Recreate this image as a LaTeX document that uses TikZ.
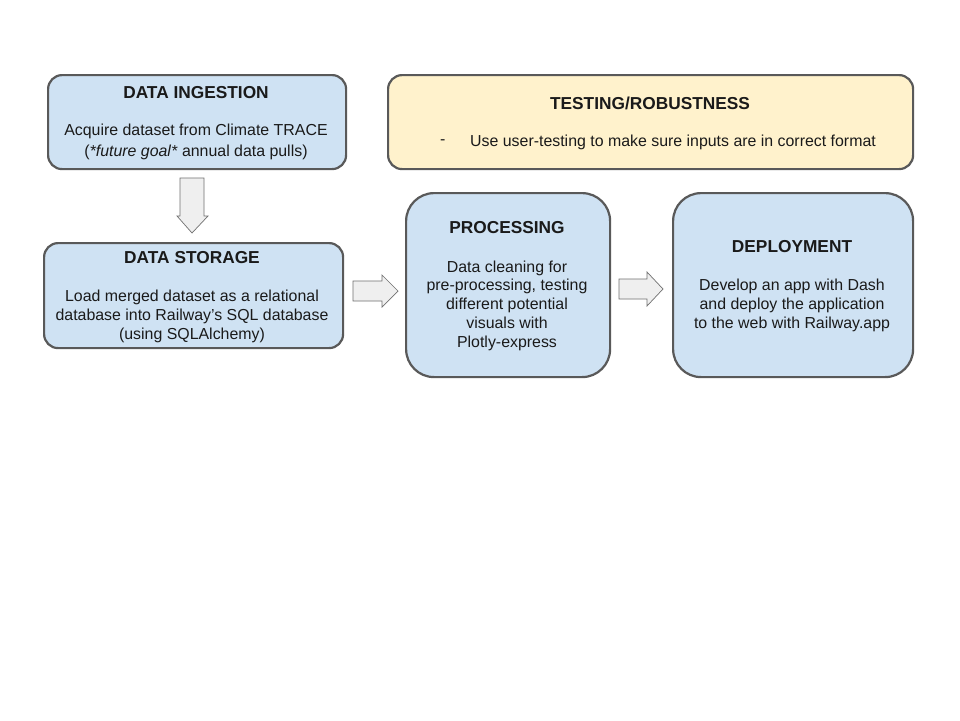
\documentclass[tikz,border=0pt]{standalone}
\usepackage{fontspec}
\setmainfont{Liberation Sans}
\definecolor{boxblue}{HTML}{CFE2F3}
\definecolor{boxyellow}{HTML}{FFF2CC}
\definecolor{edge}{HTML}{595959}
\definecolor{arrowfill}{HTML}{EFEFEF}
\definecolor{arrowedge}{HTML}{707070}
\definecolor{txt}{HTML}{1A1A1A}
\begin{document}
\begin{tikzpicture}[x=1pt,y=-1pt,
  box/.style={draw=edge, line width=2.2pt, fill=boxblue, rounded corners=14pt, inner sep=0pt, anchor=north west},
  bigbox/.style={box, rounded corners=28pt},
  ttl/.style={font=\fontsize{17.3}{20}\selectfont\bfseries, text=txt, inner sep=0pt},
  body/.style={font=\fontsize{15.9}{19}\selectfont, text=txt, align=center, inner sep=0pt},
  blockarrow/.style={draw=arrowedge, line width=0.7pt, fill=arrowfill, line join=miter}]
\useasboundingbox (0,0) rectangle (960,720);
\fill[white] (0,0) rectangle (960,720);

% boxes
\node[box, minimum width=298, minimum height=94] (ing) at (47,74) {};
\node[box, fill=boxyellow, minimum width=525, minimum height=94] (test) at (387,74) {};
\node[box, minimum width=299, minimum height=105] (stor) at (43,242) {};
\node[bigbox, minimum width=204, minimum height=184] (proc) at (405,192) {};
\node[bigbox, minimum width=240, minimum height=184] (dep) at (672,192) {};

% texts
\node[ttl] (ingt) at (196,93) {DATA INGESTION};
\node[body, font=\fontsize{15.9}{20.5}\selectfont] (ingb) at (196,142) {Acquire dataset from Climate TRACE\\(\textit{*future goal*} annual data pulls)};

\node[ttl] (testt) at (650,103) {TESTING/ROBUSTNESS};
\node[body, anchor=west] (testd) at (440,142) {-};
\node[body, anchor=west] (testb) at (470,142) {Use user-testing to make sure inputs are in correct format};

\node[ttl] (stort) at (192,258) {DATA STORAGE};
\node[body] (storb) at (192,316) {Load merged dataset as a relational\\database into Railway's SQL database\\(using SQLAlchemy)};

\node[ttl] (proct) at (507,228) {PROCESSING};
\node[body, font=\fontsize{15.9}{18.75}\selectfont] (procb) at (507,305.5) {Data cleaning for\\pre-processing, testing\\different potential\\visuals with\\Plotly-express};

\node[ttl] (dept) at (792,247) {DEPLOYMENT};
\node[body] (depb) at (792,305) {Develop an app with Dash\\and deploy the application\\to the web with Railway.app};

% block arrows
\draw[blockarrow] (180,178) -- (204,178) -- (204,216) -- (208,216) -- (192,233) -- (177,216) -- (180,216) -- cycle;
\draw[blockarrow] (353,281) -- (382,281) -- (382,275) -- (398,291) -- (382,307) -- (382,301) -- (353,301) -- cycle;
\draw[blockarrow] (619,279) -- (647,279) -- (647,272) -- (663,289) -- (647,306) -- (647,299) -- (619,299) -- cycle;
\end{tikzpicture}
\end{document}
